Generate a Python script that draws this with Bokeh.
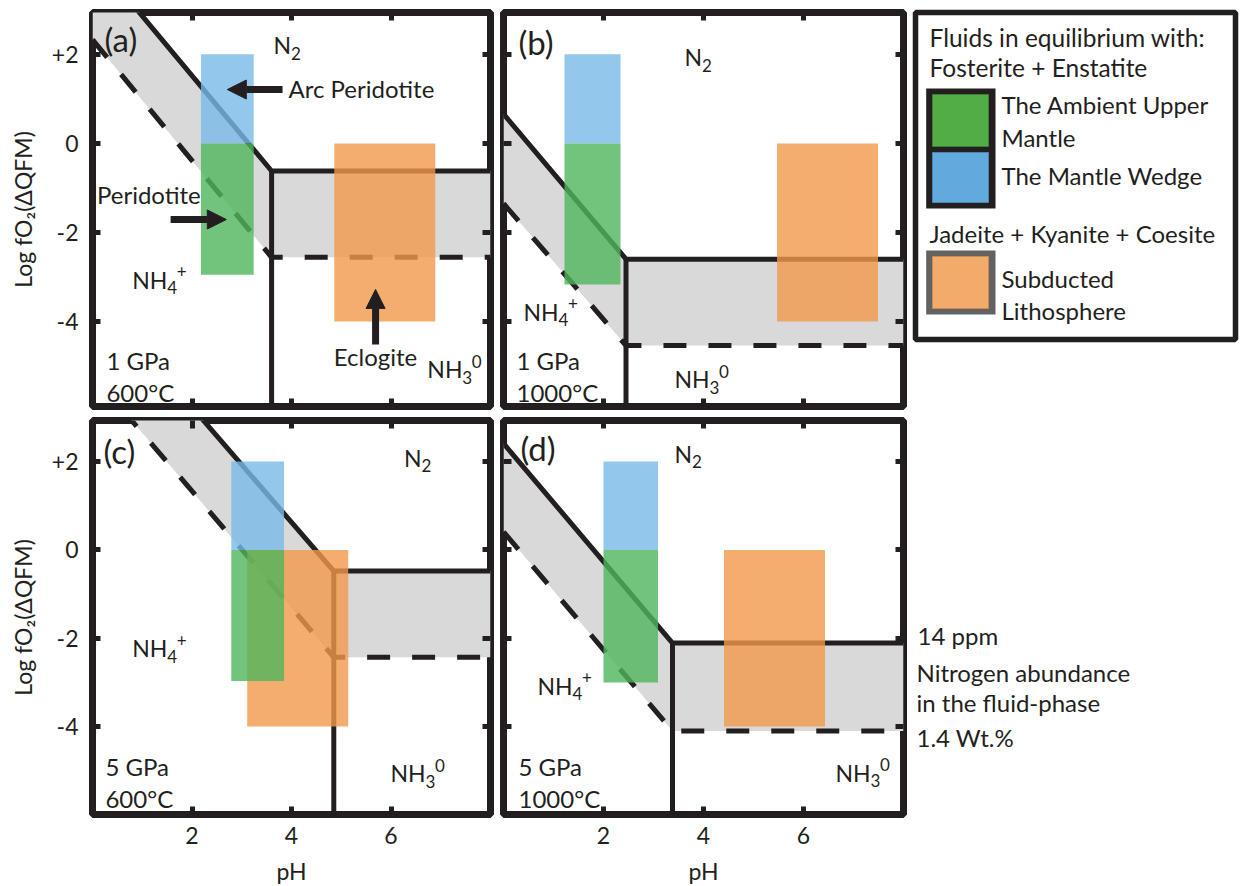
from bokeh.plotting import figure
from bokeh.layouts import row, column
from bokeh.models import (Range1d, LinearAxis, FixedTicker, CustomJSTickFormatter,
                          Arrow, NormalHead)
from bokeh.core.properties import value
from bokeh.embed import file_html
from bokeh.resources import INLINE

# ---------------- data (pH, log fO2 relative to QFM) ----------------
x_ticks = [2, 4, 6]
y_ticks = [-4, -2, 0, 2]
y_tick_labels = ["-4", "-2", "0", "+2"]
x_label = "pH"
y_label = "Log fO₂(ΔQFM)"

panel_names = ["(a)", "(b)", "(c)", "(d)"]
pressures = ["1 GPa", "1 GPa", "5 GPa", "5 GPa"]
temperatures = ["600°C", "1000°C", "600°C", "1000°C"]
# species fields: (main text, subscript, superscript)
species_n2 = ("N", "2", "")
species_nh4 = ("NH", "4", "+")
species_nh3 = ("NH", "3", "0")

# N2 / NH4+ / NH3(0) boundary for 14 ppm N (solid) and 1.4 wt.% N (dashed)
solid_ph_a = [0.0, 3.6, 8.0]
solid_fo2_a = [4.2, -0.62, -0.62]
dashed_ph_a = [0.0, 3.6, 8.0]
dashed_fo2_a = [2.33, -2.56, -2.56]
pka_ph_a = 3.6

solid_ph_b = [0.0, 2.45, 8.0]
solid_fo2_b = [0.66, -2.6, -2.6]
dashed_ph_b = [0.0, 2.45, 8.0]
dashed_fo2_b = [-1.35, -4.54, -4.54]
pka_ph_b = 2.45

solid_ph_c = [1.5, 4.85, 8.0]
solid_fo2_c = [3.88, -0.48, -0.48]
dashed_ph_c = [0.0, 4.85, 8.0]
dashed_fo2_c = [3.97, -2.43, -2.43]
pka_ph_c = 4.85

solid_ph_d = [0.0, 3.38, 8.0]
solid_fo2_d = [2.41, -2.11, -2.11]
dashed_ph_d = [0.0, 3.38, 8.0]
dashed_fo2_d = [0.41, -4.1, -4.1]
pka_ph_d = 3.38

# fluid fields: peridotite (ambient upper mantle / mantle wedge) and eclogite
peridotite_ph_a = [2.18, 3.24]
peridotite_ph_b = [1.22, 2.34]
peridotite_ph_c = [2.79, 3.85]
peridotite_ph_d = [2.0, 3.09]
wedge_fo2 = [0.0, 2.0]
ambient_fo2_a = [-2.95, 0.0]
ambient_fo2_b = [-3.17, 0.0]
ambient_fo2_c = [-2.97, 0.0]
ambient_fo2_d = [-3.0, 0.0]
eclogite_ph_a = [4.86, 6.89]
eclogite_ph_b = [5.47, 7.49]
eclogite_ph_c = [3.11, 5.14]
eclogite_ph_d = [4.41, 6.43]
eclogite_fo2 = [-4.0, 0.0]

legend_head_1 = ["Fluids in equilibrium with:", "Fosterite + Enstatite"]
legend_ambient = ["The Ambient Upper", "Mantle"]
legend_wedge = ["The Mantle Wedge"]
legend_head_2 = ["Jadeite + Kyanite + Coesite"]
legend_slab = ["Subducted", "Lithosphere"]
side_notes = ["14 ppm", "Nitrogen abundance", "in the fluid-phase", " 1.4 Wt.%"]

# ---------------- style ----------------
INK = "#231f20"
FONT = "Lato"
BAND = "#d9d9d9"
C_AMBIENT = "#4fb55b"
C_WEDGE = "#78b9e7"
C_SLAB = "#f0984a"
ALPHA = 0.8
L_AMBIENT = "#52ad47"
L_WEDGE = "#62aade"
L_SLAB = "#f2ab6b"
TS = "24px"

PANELS = {
    "a": dict(solid=(solid_ph_a, solid_fo2_a), dashed=(dashed_ph_a, dashed_fo2_a), pka=pka_ph_a,
              per=peridotite_ph_a, amb=ambient_fo2_a, ecl=eclogite_ph_a),
    "b": dict(solid=(solid_ph_b, solid_fo2_b), dashed=(dashed_ph_b, dashed_fo2_b), pka=pka_ph_b,
              per=peridotite_ph_b, amb=ambient_fo2_b, ecl=eclogite_ph_b),
    "c": dict(solid=(solid_ph_c, solid_fo2_c), dashed=(dashed_ph_c, dashed_fo2_c), pka=pka_ph_c,
              per=peridotite_ph_c, amb=ambient_fo2_c, ecl=eclogite_ph_c),
    "d": dict(solid=(solid_ph_d, solid_fo2_d), dashed=(dashed_ph_d, dashed_fo2_d), pka=pka_ph_d,
              per=peridotite_ph_d, amb=ambient_fo2_d, ecl=eclogite_ph_d),
}

# label placement (left x, vertical centre y) in each panel's axes
LABEL_POS = {
    "a": dict(name=(0.24, 2.34), N2=(3.64, 2.2), NH4=(0.8, -3.06), NH3=(6.73, -5.07),
              P=(0.28, -4.88), T=(0.28, -5.6)),
    "b": dict(name=(0.3, 2.27), N2=(3.62, 1.93), NH4=(0.4, -3.78), NH3=(3.42, -5.3),
              P=(0.26, -4.88), T=(0.26, -5.6)),
    "c": dict(name=(0.22, 2.25), N2=(6.26, 2.09), NH4=(0.8, -2.23), NH3=(5.99, -5.06),
              P=(0.26, -4.9), T=(0.26, -5.62)),
    "d": dict(name=(0.34, 2.3), N2=(3.42, 2.18), NH4=(0.68, -3.07), NH3=(6.64, -5.05),
              P=(0.3, -4.9), T=(0.3, -5.63)),
}


def txt(p, x, y, s, size, align="left", dx=0, dy=0):
    p.text(x=[x], y=[y], text=[s], text_font=value(FONT), text_font_size=value(size),
           text_color=INK, text_align=align, text_baseline="middle",
           x_offset=dx, y_offset=dy)


def species(p, pos, sp, main_w):
    main, sub, sup = sp
    x, y = pos
    txt(p, x, y, main, "23px")
    txt(p, x, y, sub, "17px", dx=main_w, dy=8)
    if sup:
        txt(p, x, y, sup, "17px", dx=main_w + 9.5, dy=-8)


def add_axis(p, loc, ticks, labelled, overrides=None, label=None):
    ax = LinearAxis(ticker=FixedTicker(ticks=ticks, minor_ticks=[]))
    ax.axis_line_color = None
    ax.major_tick_in = 8
    ax.major_tick_out = 0
    ax.major_tick_line_width = 5
    ax.major_tick_line_color = INK
    ax.minor_tick_line_color = None
    if labelled:
        ax.major_label_text_font = FONT
        ax.major_label_text_font_size = "23px"
        ax.major_label_text_color = INK
        ax.major_label_standoff = 14 if loc == "left" else 12
        if overrides:
            ax.major_label_overrides = overrides
        if label:
            ax.axis_label = label
            ax.axis_label_text_font = FONT
            ax.axis_label_text_font_size = "23px"
            ax.axis_label_text_font_style = "normal"
            ax.axis_label_text_color = INK
            ax.axis_label_standoff = 12 if loc == "left" else 10
    else:
        ax.formatter = CustomJSTickFormatter(code="return ''")
        ax.major_label_text_font_size = "1px"
        ax.major_label_standoff = 0
    p.add_layout(ax, loc)


def make_panel(key, idx, yr, left_lab, bottom_lab, bl, br, bt, bb, fw):
    d = PANELS[key]
    p = figure(frame_width=fw, frame_height=394, x_range=Range1d(0, 8), y_range=yr,
               x_axis_type=None, y_axis_type=None, toolbar_location=None,
               output_backend="svg", min_border_left=bl, min_border_right=br,
               min_border_top=bt, min_border_bottom=bb)
    p.outline_line_color = INK
    p.outline_line_width = 7
    p.background_fill_color = "white"
    p.border_fill_color = "white"

    sx, sy = d["solid"]
    dx, dy = d["dashed"]
    p.patch(sx + dx[::-1], sy + dy[::-1], fill_color=BAND, line_color=None)
    p.line(sx, sy, line_color=INK, line_width=5)
    p.line(dx, dy, line_color=INK, line_width=5, line_dash="23 22")
    p.line([d["pka"], d["pka"]], [sy[1], yr.start - 1], line_color=INK, line_width=5)

    per = d["per"]
    p.quad(left=[d["ecl"][0]], right=[d["ecl"][1]], bottom=[eclogite_fo2[0]], top=[eclogite_fo2[1]],
           fill_color=C_SLAB, fill_alpha=ALPHA, line_color=None)
    p.quad(left=[per[0]], right=[per[1]], bottom=[wedge_fo2[0]], top=[wedge_fo2[1]],
           fill_color=C_WEDGE, fill_alpha=ALPHA, line_color=None)
    p.quad(left=[per[0]], right=[per[1]], bottom=[d["amb"][0]], top=[d["amb"][1]],
           fill_color=C_AMBIENT, fill_alpha=ALPHA, line_color=None)

    lp = LABEL_POS[key]
    txt(p, *lp["name"], panel_names[idx], "33px")
    species(p, lp["N2"], species_n2, 17.5)
    species(p, lp["NH4"], species_nh4, 35)
    species(p, lp["NH3"], species_nh3, 35)
    txt(p, *lp["P"], pressures[idx], TS)
    txt(p, *lp["T"], temperatures[idx], TS)

    add_axis(p, "above", x_ticks, False)
    add_axis(p, "right", y_ticks, False)
    add_axis(p, "below", x_ticks, bottom_lab, label=x_label if bottom_lab else None)
    add_axis(p, "left", y_ticks, left_lab,
             overrides={t: s for t, s in zip(y_ticks, y_tick_labels)} if left_lab else None,
             label=y_label if left_lab else None)
    return p


yr_top = Range1d(-5.91, 2.94)
yr_bot = Range1d(-5.99, 2.93)

fa = make_panel("a", 0, yr_top, True, False, 92, 6, 11, 7, 398)
fb = make_panel("b", 1, Range1d(-5.91, 2.94), False, False, 7, 5, 11, 7, 400)
fc = make_panel("c", 2, yr_bot, True, True, 92, 6, 8, 72, 398)
fd = make_panel("d", 3, yr_bot, False, True, 7, 5, 8, 72, 400)

# sample annotations in panel (a)
txt(fa, 3.94, 1.24, "Arc Peridotite", TS)
txt(fa, 0.09, -1.15, "Peridotite", TS)
txt(fa, 4.85, -4.79, "Eclogite", TS)
for xs, ys, xe, ye in [(3.82, 1.21, 2.71, 1.21), (1.57, -1.71, 2.69, -1.71), (5.69, -4.52, 5.69, -3.28)]:
    fa.add_layout(Arrow(end=NormalHead(size=19, fill_color=INK, line_color=INK, line_width=1),
                        x_start=xs, y_start=ys, x_end=xe, y_end=ye,
                        line_color=INK, line_width=7))

# ---------------- legend box (page-pixel coordinates) ----------------
leg = figure(frame_width=320, frame_height=327, x_range=Range1d(915, 1235), y_range=Range1d(339, 12),
             x_axis_type=None, y_axis_type=None, toolbar_location=None, output_backend="svg",
             min_border_left=7, min_border_right=5, min_border_top=12, min_border_bottom=73)
leg.outline_line_color = INK
leg.outline_line_width = 5.5
leg.quad(left=[925.7], right=[995], top=[88], bottom=[208], fill_color=INK, line_color=None)
leg.quad(left=[932], right=[988], top=[94], bottom=[146], fill_color=L_AMBIENT, line_color="#3d7f39", line_width=1)
leg.quad(left=[932], right=[988], top=[152], bottom=[202], fill_color=L_WEDGE, line_color="#4a86b2", line_width=1)
leg.quad(left=[925.7], right=[995], top=[250], bottom=[314], fill_color="#646161", line_color=None)
leg.quad(left=[932], right=[988], top=[256], bottom=[308], fill_color=L_SLAB, line_color="#c98a55", line_width=1)
txt(leg, 929, 37, legend_head_1[0], "24.5px")
txt(leg, 929, 67, legend_head_1[1], "24.5px")
txt(leg, 1001, 104, legend_ambient[0], TS)
txt(leg, 1001, 137, legend_ambient[1], TS)
txt(leg, 1001, 175, legend_wedge[0], TS)
txt(leg, 929, 233, legend_head_2[0], TS)
txt(leg, 1001, 278, legend_slab[0], TS)
txt(leg, 1001, 310, legend_slab[1], TS)

# ---------------- side notes, aligned with panel (d) ----------------
side = figure(frame_width=332, frame_height=394, x_range=Range1d(908, 1240), y_range=yr_bot,
              x_axis_type=None, y_axis_type=None, toolbar_location=None, output_backend="svg",
              min_border_left=0, min_border_right=0, min_border_top=8, min_border_bottom=72)
side.outline_line_color = None
txt(side, 917, -1.94, side_notes[0], TS)
txt(side, 916, -2.78, side_notes[1], TS)
txt(side, 916, -3.45, side_notes[2], TS)
txt(side, 916, -4.25, side_notes[3], TS)

layout = column(row(fa, fb, leg), row(fc, fd, side))
open("out.html", "w").write(file_html(layout, INLINE))
